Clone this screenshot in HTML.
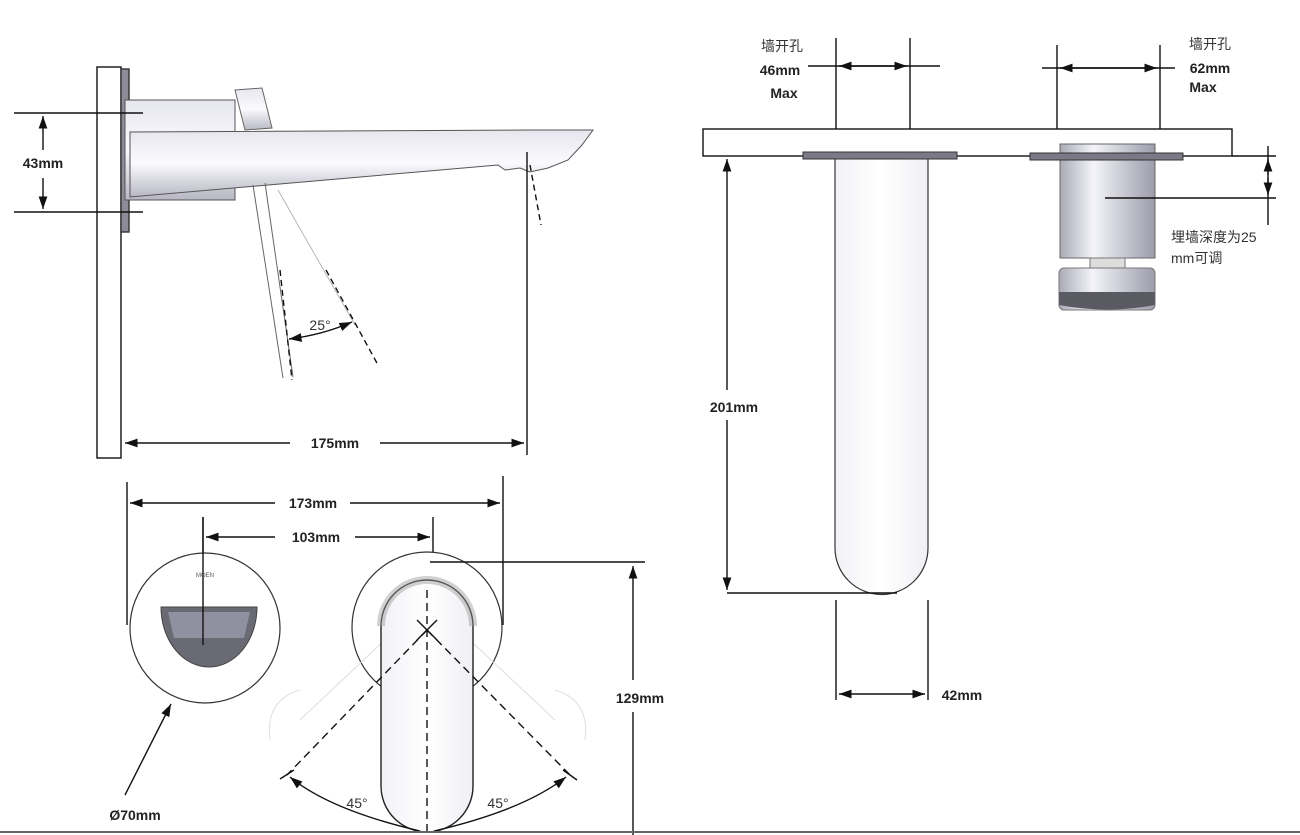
<!DOCTYPE html>
<html><head><meta charset="utf-8"><style>
html,body{margin:0;padding:0;background:#fff;}
svg{display:block;}
text{font-family:"Liberation Sans","Noto Sans CJK SC",sans-serif;}
.b{font-weight:bold;font-size:14px;fill:#222;}
.c{font-size:14px;fill:#333;}
</style></head><body>
<svg width="1300" height="835" viewBox="0 0 1300 835" xmlns="http://www.w3.org/2000/svg">
<defs>
<linearGradient id="gv" x1="0" y1="0" x2="0" y2="1"><stop offset="0" stop-color="#e6e6ee"/><stop offset="0.5" stop-color="#fafafe"/><stop offset="1" stop-color="#b8b8c4"/></linearGradient>
<linearGradient id="gh" x1="0" y1="0" x2="1" y2="0"><stop offset="0" stop-color="#aaaab6"/><stop offset="0.35" stop-color="#f4f4fa"/><stop offset="1" stop-color="#9c9cab"/></linearGradient>
<linearGradient id="gt" x1="0" y1="0" x2="1" y2="0"><stop offset="0" stop-color="#f2f2f6"/><stop offset="0.5" stop-color="#fff"/><stop offset="1" stop-color="#f0f0f4"/></linearGradient>
<marker id="a" viewBox="0 0 10 10" refX="10" refY="5" markerWidth="9" markerHeight="9" orient="auto-start-reverse"><path d="M0,1.5 L10,5 L0,8.5 z" fill="#111"/></marker>
</defs>
<g stroke="#111" fill="none" stroke-width="1.4">
<!-- LEFT SIDE VIEW -->
<rect x="97" y="67" width="24" height="391" fill="#fff"/>
<rect x="121" y="69" width="8" height="163" fill="#8c8c98" stroke="#333"/>
<rect x="125" y="100" width="110" height="100" fill="url(#gv)" stroke="#555" stroke-width="1"/>
<path d="M235,90 L262,88 L272,128 L245,130 Z" fill="url(#gv)" stroke="#666" stroke-width="1"/>
<path d="M130,132 L528,130 L593,130 L582,145 L568,160 L548,168 L530,172 L520,168 L505,170 L498,165 L130,197 Z" fill="url(#gv)" stroke="#555" stroke-width="1"/>
<line x1="253" y1="185" x2="283" y2="378" stroke="#666" stroke-width="1"/>
<line x1="265" y1="183" x2="293" y2="377" stroke="#666" stroke-width="1"/>
<line x1="278" y1="190" x2="355" y2="325" stroke="#aaa" stroke-width="0.8"/>
<line x1="280" y1="270" x2="292" y2="380" stroke-dasharray="6,4"/>
<line x1="326" y1="270" x2="378" y2="365" stroke-dasharray="6,4"/>
<line x1="530" y1="165" x2="541" y2="225" stroke-dasharray="6,4"/>
<line x1="14" y1="113" x2="143" y2="113"/>
<line x1="14" y1="212" x2="143" y2="212"/>
<line x1="43" y1="150" x2="43" y2="116" marker-end="url(#a)"/>
<line x1="43" y1="178" x2="43" y2="209" marker-end="url(#a)"/>
<line x1="527" y1="152" x2="527" y2="455"/>
<line x1="290" y1="443" x2="125" y2="443" marker-end="url(#a)"/>
<line x1="380" y1="443" x2="524" y2="443" marker-end="url(#a)"/>
<path d="M289,339 Q322,335 352,322" marker-start="url(#a)" marker-end="url(#a)"/>
<!-- BOTTOM VIEW -->
<line x1="127" y1="482" x2="127" y2="625"/>
<line x1="503" y1="476" x2="503" y2="625"/>
<line x1="275" y1="503" x2="130" y2="503" marker-end="url(#a)"/>
<line x1="350" y1="503" x2="500" y2="503" marker-end="url(#a)"/>
<line x1="203" y1="517" x2="203" y2="640"/>
<line x1="433" y1="517" x2="433" y2="665"/>
<line x1="275" y1="537" x2="206" y2="537" marker-end="url(#a)"/>
<line x1="355" y1="537" x2="430" y2="537" marker-end="url(#a)"/>
<circle cx="205" cy="628" r="75" stroke="#333" stroke-width="1.2" fill="#fff"/>
<path d="M161,607 L257,607 A48,60 0 0 1 161,607 Z" fill="#6a6a74" stroke="#444" stroke-width="1"/>
<path d="M168,612 L250,612 L244,638 L174,638 Z" fill="#9090a0" stroke="none"/>
<line x1="203" y1="517" x2="203" y2="645" stroke="#111"/>
<text x="205" y="577" font-size="6" fill="#555" stroke="none" text-anchor="middle">MOEN</text>
<circle cx="427" cy="627" r="75" stroke="#333" stroke-width="1.2" fill="#fff"/>
<path d="M300,720 L427,600 M555,720 L427,600" stroke="#ddd" stroke-width="1"/>
<path d="M270,740 Q265,700 300,690 M585,740 Q590,700 555,690" stroke="#e0e0e0" stroke-width="1"/>
<rect x="381" y="580" width="92" height="252" rx="46" ry="46" fill="url(#gt)" stroke="#222" stroke-width="1.4"/>
<path d="M381,626 A46,46 0 0 1 473,626" stroke="#999" stroke-width="8" fill="none" opacity="0.45"/>
<line x1="427" y1="590" x2="427" y2="835" stroke-dasharray="8,5"/>
<line x1="427" y1="630" x2="287" y2="775" stroke-dasharray="8,5"/>
<line x1="427" y1="630" x2="570" y2="775" stroke-dasharray="8,5"/>
<line x1="417" y1="620" x2="437" y2="640"/><line x1="437" y1="620" x2="417" y2="640"/>
<line x1="280" y1="779" x2="294" y2="770"/><line x1="563" y1="770" x2="577" y2="780"/>
<path d="M420,831 Q330,810 290,777" marker-end="url(#a)"/>
<path d="M434,831 Q524,810 566,777" marker-end="url(#a)"/>
<line x1="430" y1="562" x2="645" y2="562"/>
<line x1="633" y1="680" x2="633" y2="566" marker-end="url(#a)"/>
<line x1="633" y1="712" x2="633" y2="835"/>
<line x1="125" y1="795" x2="171" y2="704" marker-end="url(#a)"/>
<!-- RIGHT VIEW -->
<rect x="703" y="129" width="529" height="27" fill="#fff"/>
<line x1="836" y1="38" x2="836" y2="129"/>
<line x1="910" y1="38" x2="910" y2="129"/>
<line x1="808" y1="66" x2="940" y2="66"/>
<line x1="872" y1="66" x2="839" y2="66" marker-end="url(#a)"/>
<line x1="872" y1="66" x2="907" y2="66" marker-end="url(#a)"/>
<line x1="1057" y1="45" x2="1057" y2="129"/>
<line x1="1160" y1="45" x2="1160" y2="129"/>
<line x1="1042" y1="68" x2="1175" y2="68"/>
<line x1="1108" y1="68" x2="1060" y2="68" marker-end="url(#a)"/>
<line x1="1108" y1="68" x2="1157" y2="68" marker-end="url(#a)"/>
<path d="M835,156 L835,548 A46.5,46.5 0 0 0 928,548 L928,156" fill="url(#gt)" stroke="#333" stroke-width="1.2"/>
<rect x="803" y="152" width="154" height="7" fill="#7a7a86" stroke="#333" stroke-width="1"/>
<rect x="1060" y="144" width="95" height="114" fill="url(#gh)" stroke="#666" stroke-width="1"/>
<rect x="1030" y="153" width="153" height="7" fill="#7a7a86" stroke="#333" stroke-width="1"/>
<rect x="1090" y="258" width="35" height="10" fill="#ddd" stroke="#777" stroke-width="1"/>
<rect x="1059" y="268" width="96" height="42" rx="5" fill="url(#gh)" stroke="#777" stroke-width="1"/>
<path d="M1059,292 L1155,292 L1155,305 Q1107,314 1059,305 Z" fill="#5a5a62" stroke="none"/>
<line x1="1105" y1="198" x2="1276" y2="198"/>
<line x1="1232" y1="156" x2="1276" y2="156"/>
<line x1="1268" y1="146" x2="1268" y2="225"/>
<line x1="1268" y1="175" x2="1268" y2="159" marker-end="url(#a)"/>
<line x1="1268" y1="178" x2="1268" y2="195" marker-end="url(#a)"/>
<line x1="727" y1="390" x2="727" y2="159" marker-end="url(#a)"/>
<line x1="727" y1="420" x2="727" y2="590" marker-end="url(#a)"/>
<line x1="727" y1="593" x2="897" y2="593"/>
<line x1="836" y1="600" x2="836" y2="700"/>
<line x1="928" y1="600" x2="928" y2="700"/>
<line x1="839" y1="694" x2="925" y2="694" marker-start="url(#a)" marker-end="url(#a)"/>
<line x1="0" y1="832" x2="1300" y2="832" stroke="#666" stroke-width="2"/>
</g>
<text class="b" x="43" y="168" text-anchor="middle">43mm</text>
<text class="b" x="335" y="448" text-anchor="middle">175mm</text>
<text class="c" x="320" y="330" text-anchor="middle">25°</text>
<text class="b" x="313" y="508" text-anchor="middle">173mm</text>
<text class="b" x="316" y="542" text-anchor="middle">103mm</text>
<text class="b" x="640" y="703" text-anchor="middle">129mm</text>
<text class="b" x="135" y="820" text-anchor="middle">Ø70mm</text>
<text class="c" x="357" y="808" text-anchor="middle">45°</text>
<text class="c" x="498" y="808" text-anchor="middle">45°</text>
<text class="c" x="782" y="51" text-anchor="middle">墙开孔</text>
<text class="b" x="780" y="75" text-anchor="middle">46mm</text>
<text class="b" x="784" y="98" text-anchor="middle">Max</text>
<text class="c" x="1210" y="49" text-anchor="middle">墙开孔</text>
<text class="b" x="1210" y="73" text-anchor="middle">62mm</text>
<text class="b" x="1203" y="92" text-anchor="middle">Max</text>
<text class="c" x="1171" y="242">埋墙深度为25</text>
<text class="c" x="1171" y="263">mm可调</text>
<text class="b" x="734" y="412" text-anchor="middle">201mm</text>
<text class="b" x="962" y="700" text-anchor="middle">42mm</text>
</svg>
</body></html>
